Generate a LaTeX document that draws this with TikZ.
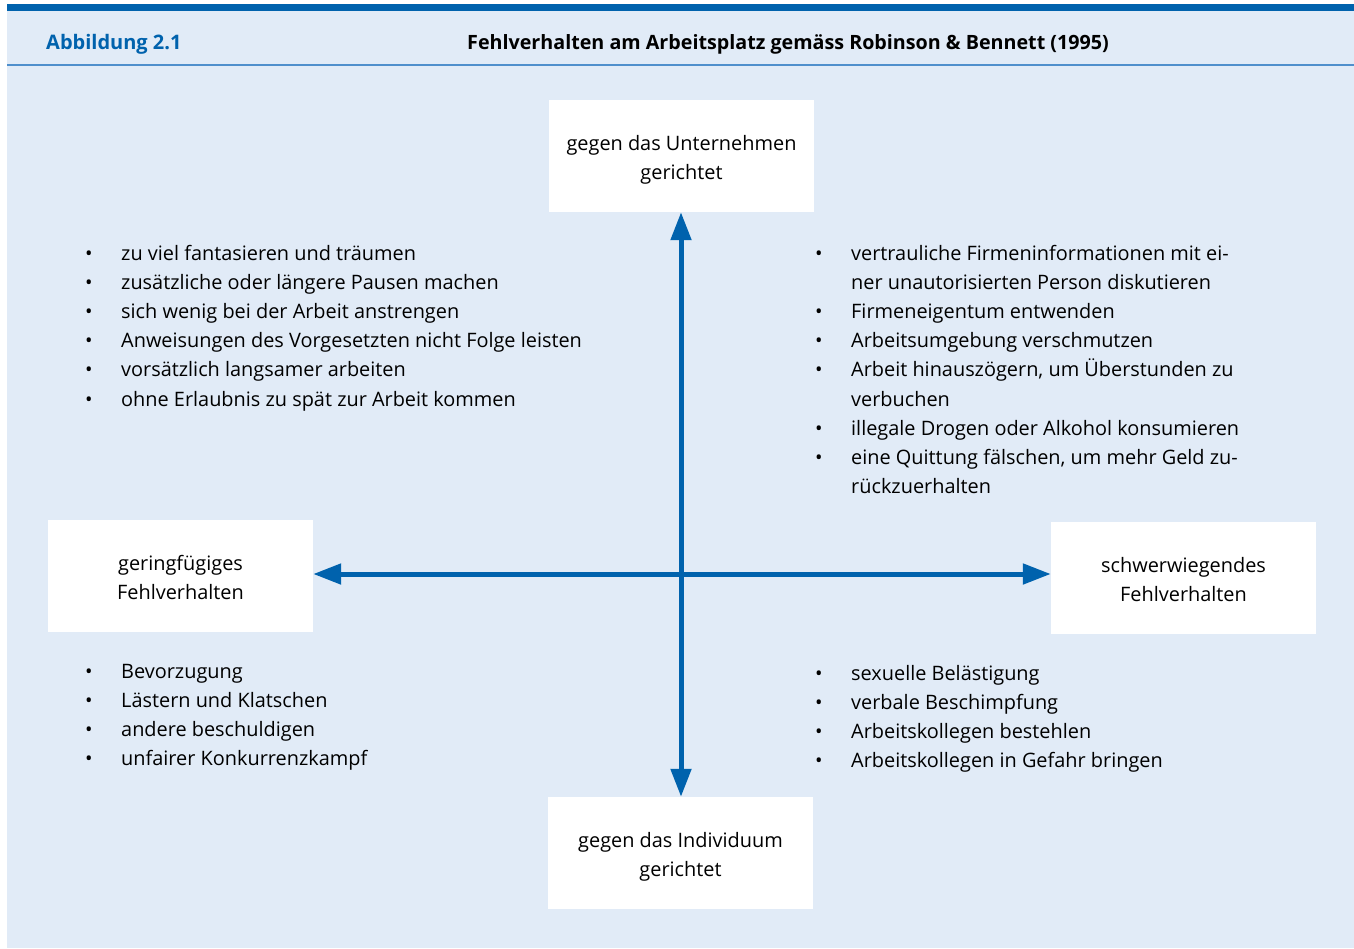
\documentclass[tikz,border=0pt]{standalone}
\usepackage{fontspec}
\setmainfont{Open Sans}
\usetikzlibrary{arrows.meta,calc}
\definecolor{bgblue}{HTML}{E1EBF7}
\definecolor{darkblue}{HTML}{0062AD}
\definecolor{lineblue}{HTML}{4F8FCC}
\newcommand{\bodyfont}{\fontsize{19.9}{29.1}\selectfont}
\begin{document}
\begin{tikzpicture}[x=1pt,y=-1pt,
  whitebox/.style={fill=white, draw=none, minimum width=265pt, minimum height=112pt, inner sep=0pt},
  boxtext/.style={anchor=base, inner sep=0pt, font=\bodyfont},
  listtext/.style={anchor=base west, inner sep=0pt, font=\bodyfont},
  axisarrow/.style={draw=darkblue, line width=5pt, -{Triangle[length=28pt,width=20pt]}},
  headtext/.style={anchor=base, inner sep=0pt, font=\bfseries\fontsize{19.7}{22}\selectfont}
]
\useasboundingbox (0,0) rectangle (1354,948);
\fill[bgblue] (7,4) rectangle (1354,948);
\fill[darkblue] (7,4) rectangle (1354,11);
\draw[lineblue, line width=2pt] (7,65) -- (1354,65);

\node[headtext, anchor=base west, text=darkblue, font=\bfseries\fontsize{20}{22}\selectfont] (fig) at (46,49) {Abbildung 2.1};
\node[headtext] (title) at (788,49) {Fehlverhalten am Arbeitsplatz gemäss Robinson \& Bennett (1995)};

% boxes
\node[whitebox] (top) at (681.5,156) {};
\node[whitebox] (left) at (180.5,575.5) {};
\node[whitebox] (right) at (1183.5,578) {};
\node[whitebox] (bottom) at (680.5,853) {};

\node[boxtext] (toptext) at ($(top.center)+(0,-5.5)$) {\begin{tabular}[t]{@{}c@{}}gegen das Unternehmen\\gerichtet\end{tabular}};
\node[boxtext] (lefttext) at ($(left.center)+(0,-5)$) {\begin{tabular}[t]{@{}c@{}}geringfügiges\\Fehlverhalten\end{tabular}};
\node[boxtext] (righttext) at ($(right.center)+(0,-5.5)$) {\begin{tabular}[t]{@{}c@{}}schwerwiegendes\\Fehlverhalten\end{tabular}};
\node[boxtext] (bottomtext) at ($(bottom.center)+(0,-5.5)$) {\begin{tabular}[t]{@{}c@{}}gegen das Individuum\\gerichtet\end{tabular}};

% axes
\coordinate (c) at (681,574);
\draw[axisarrow] (c) -- (top.south -| c);
\draw[axisarrow] (c) -- (bottom.north -| c);
\draw[axisarrow] (c) -- (left.east |- c);
\draw[axisarrow] (c) -- (right.west |- c);

% lists
\node[listtext] (tl) at (85,260.5) {\begin{tabular}[t]{@{}p{36pt}@{}l@{}}
\textbullet & zu viel fantasieren und träumen\\
\textbullet & zusätzliche oder längere Pausen machen\\
\textbullet & sich wenig bei der Arbeit anstrengen\\
\textbullet & Anweisungen des Vorgesetzten nicht Folge leisten\\
\textbullet & vorsätzlich langsamer arbeiten\\
\textbullet & ohne Erlaubnis zu spät zur Arbeit kommen
\end{tabular}};

\node[listtext] (tr) at (815,260.5) {\begin{tabular}[t]{@{}p{36pt}@{}l@{}}
\textbullet & vertrauliche Firmeninformationen mit ei-\\
 & ner unautorisierten Person diskutieren\\
\textbullet & Firmeneigentum entwenden\\
\textbullet & Arbeitsumgebung verschmutzen\\
\textbullet & Arbeit hinauszögern, um Überstunden zu\\
 & verbuchen\\
\textbullet & illegale Drogen oder Alkohol konsumieren\\
\textbullet & eine Quittung fälschen, um mehr Geld zu-\\
 & rückzuerhalten
\end{tabular}};

\node[listtext] (bl) at (85,678) {\begin{tabular}[t]{@{}p{36pt}@{}l@{}}
\textbullet & Bevorzugung\\
\textbullet & Lästern und Klatschen\\
\textbullet & andere beschuldigen\\
\textbullet & unfairer Konkurrenzkampf
\end{tabular}};

\node[listtext] (br) at (815,680) {\begin{tabular}[t]{@{}p{36pt}@{}l@{}}
\textbullet & sexuelle Belästigung\\
\textbullet & verbale Beschimpfung\\
\textbullet & Arbeitskollegen bestehlen\\
\textbullet & Arbeitskollegen in Gefahr bringen
\end{tabular}};
\end{tikzpicture}
\end{document}
